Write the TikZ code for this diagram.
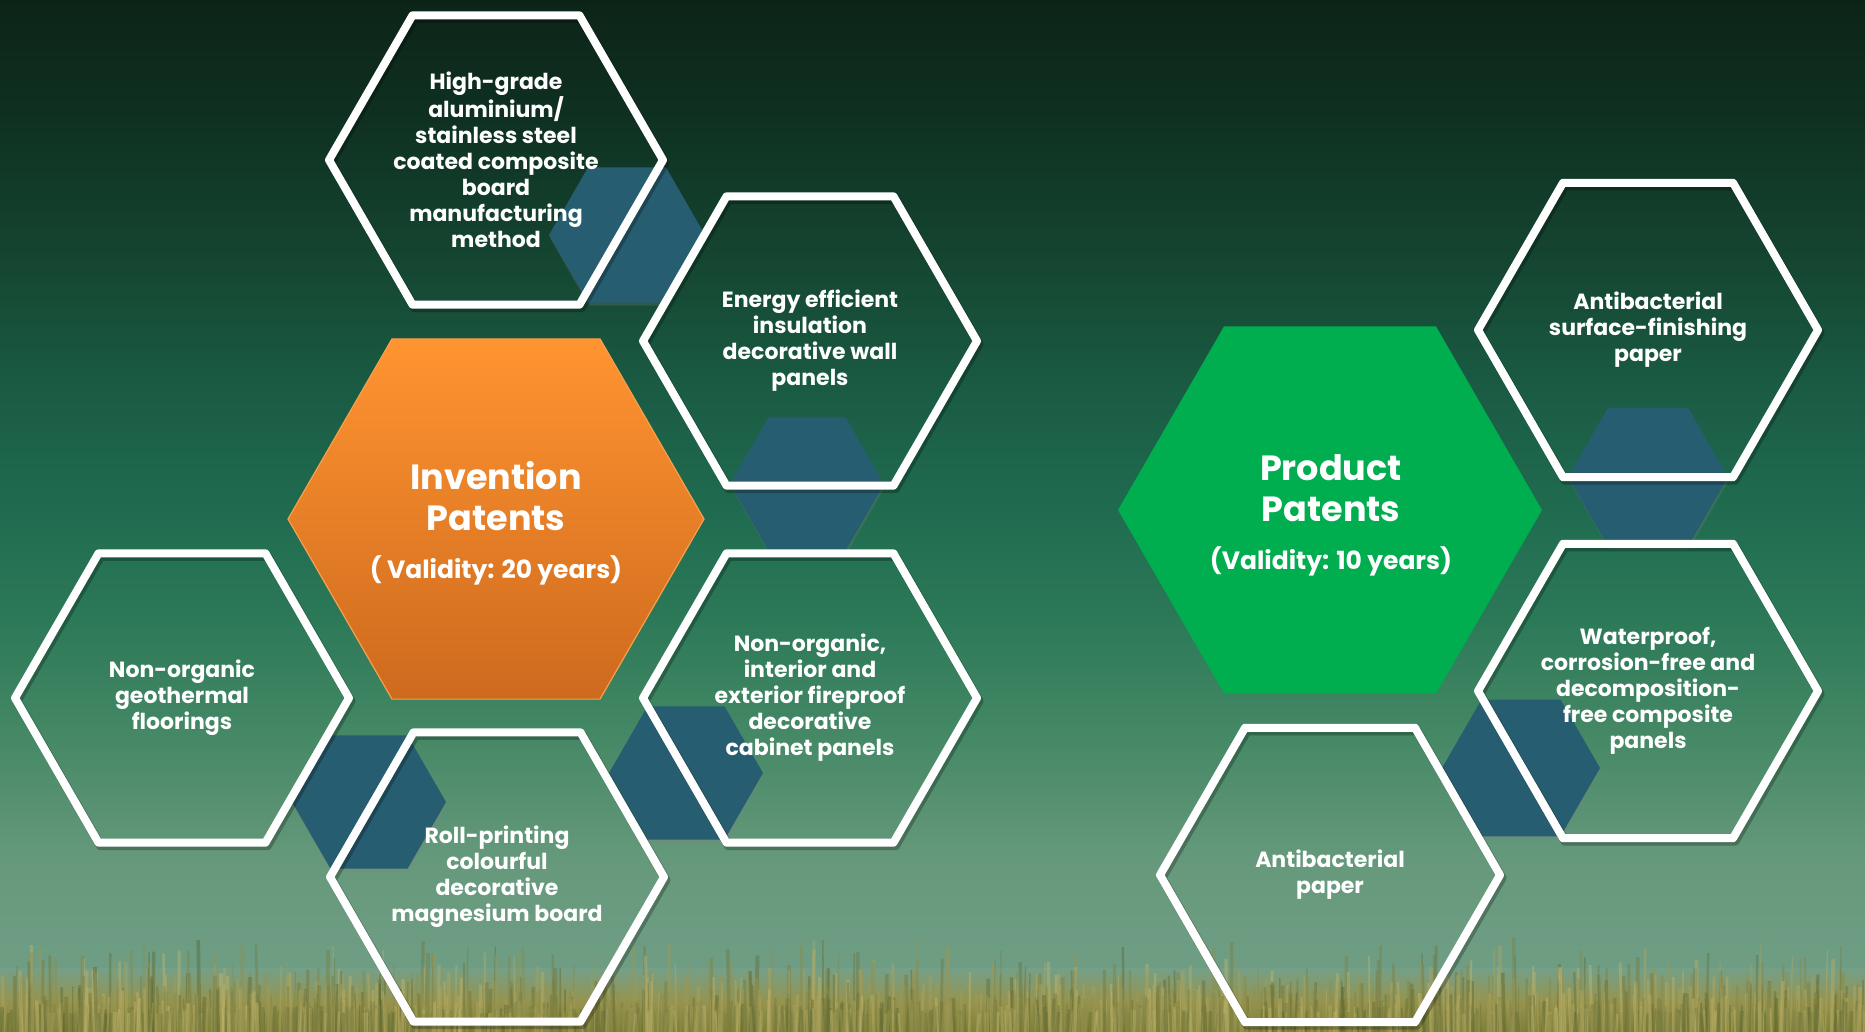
\documentclass[tikz,border=0pt]{standalone}
\usepackage{fontspec}
\setmainfont{Poppins}
\usetikzlibrary{shapes.geometric,shadows}

% sky gradient, top to bottom
\definecolor{bg0}{HTML}{0C2418}
\definecolor{bg1}{HTML}{0F3121}
\definecolor{bg2}{HTML}{144430}
\definecolor{bg3}{HTML}{1A5A42}
\definecolor{bg4}{HTML}{1F6A4F}
\definecolor{bg5}{HTML}{2C7958}
\definecolor{bg6}{HTML}{468966}
\definecolor{bg7}{HTML}{66997C}
\definecolor{bg8}{HTML}{74A088}
% grass
\definecolor{grassLight}{HTML}{CCBC70}
\definecolor{grassDark}{HTML}{56622C}
\definecolor{grassBase}{HTML}{96934E}
\definecolor{grassLow}{HTML}{7E8038}
% shapes
\definecolor{hexblue}{HTML}{275D70}
\definecolor{orangeTop}{HTML}{FF9430}
\definecolor{orangeBot}{HTML}{CE6A1E}
\definecolor{orangeEdge}{HTML}{F7A04C}
\definecolor{prodgreen}{HTML}{00AD4F}

\tikzset{
  hexbase/.style={regular polygon, regular polygon sides=6, inner sep=0pt, outer sep=0pt},
  outhex/.style={hexbase, draw=white, line width=8pt, line join=round,
    preaction={draw=black, draw opacity=0.25, line width=9pt,
      transform canvas={xshift=2pt, yshift=-3pt}}},
  lefthex/.style={outhex, minimum size=334pt},
  righthex/.style={outhex, minimum size=340pt},
  bluehex/.style={hexbase, fill=hexblue, draw=none,
    drop shadow={shadow xshift=1pt, shadow yshift=-3pt, opacity=0.25}},
  smalltxt/.style={text=white, align=center, inner sep=0pt,
    font=\fontsize{22}{26}\selectfont\bfseries},
  titletxt/.style={text=white, align=center, inner sep=0pt,
    font=\fontsize{35}{41}\selectfont\bfseries},
  validtxt/.style={text=white, inner sep=0pt, anchor=base,
    font=\fontsize{25}{30}\selectfont\bfseries},
}

\begin{document}
\begin{tikzpicture}[x=1pt,y=-1pt]
\useasboundingbox (0,0) rectangle (1865,1031);

% ---- background sky ----
\foreach \ya/\yb/\ca/\cb in {0/120/bg0/bg1, 120/250/bg1/bg2, 250/380/bg2/bg3,
    380/500/bg3/bg4, 500/620/bg4/bg5, 620/740/bg5/bg6, 740/860/bg6/bg7,
    860/1031/bg7/bg8}
  \fill[top color=\ca, bottom color=\cb] (-1,\ya-0.5) rectangle (1866,\yb+0.5);

% ---- grass ----
\fill[top color=bg8, bottom color=grassBase] (-1,968) rectangle (1866,1002);
\fill[top color=grassBase, bottom color=grassLow] (-1,1001.5) rectangle (1866,1032);
\pgfmathsetseed{4242}
\foreach \i in {1,...,1700}{
  \pgfmathsetmacro{\gx}{rnd*1880-8}
  \pgfmathsetmacro{\gh}{18+rnd*rnd*78}
  \pgfmathsetmacro{\gw}{1+rnd*3}
  \pgfmathsetmacro{\gm}{rnd*100}
  \pgfmathsetmacro{\gl}{rnd*4-2}
  \draw[line width=\gw pt, draw=grassLight!\gm!grassDark, draw opacity=0.42]
    (\gx,1032) -- ++(\gl,-\gh);
}

% ---- dark blue linking hexagons ----
\node[bluehex, minimum size=156pt] (cA) at (627,235) {};
\node[bluehex, minimum size=154pt] (cB) at (807,484) {};
\node[bluehex, minimum size=154pt] (cC) at (686,773) {};
\node[bluehex, minimum size=154pt] (cD) at (369,802) {};
\node[bluehex, minimum size=160pt] (cE) at (1648,477) {};
\node[bluehex, minimum size=158pt] (cF) at (1521,768) {};

% ---- filled category hexagons ----
\node[hexbase, minimum size=416pt, top color=orangeTop, bottom color=orangeBot,
      draw=orangeEdge, line width=1.2pt] (hInv) at (496,519) {};
\node[hexbase, minimum size=424pt, fill=prodgreen] (hProd) at (1330,510) {};

% ---- outlined patent hexagons ----
\node[lefthex]  (hTop)      at (496,160) {};
\node[lefthex]  (hEnergy)   at (810,341) {};
\node[lefthex]  (hInterior) at (810,698) {};
\node[lefthex]  (hGeo)      at (182,698) {};
\node[lefthex]  (hRoll)     at (497,877) {};
\node[righthex] (hSurface)  at (1648,330) {};
\node[righthex] (hWater)    at (1648,691) {};
\node[righthex] (hPaper)    at (1330,875) {};

% ---- category titles ----
\node[titletxt] (tInv) at (496,496) {Invention\\Patents};
\node[validtxt] (vInv) at (496,578) {( Validity: 20 years)};
\node[titletxt] (tProd) at (1331,488) {Product\\Patents};
\node[validtxt] (vProd) at (1331,569) {(Validity: 10 years)};

% ---- patent labels ----
\node[smalltxt] (lTop) at (hTop.center)
  {High-grade\\aluminium/\\stainless steel\\coated composite\\board\\manufacturing\\method};
\node[smalltxt] (lEnergy) at (hEnergy.center)
  {Energy efficient\\insulation\\decorative wall\\panels};
\node[smalltxt] (lInterior) at (hInterior.center)
  {Non-organic,\\interior and\\exterior fireproof\\decorative\\cabinet panels};
\node[smalltxt] (lGeo) at (hGeo.center)
  {Non-organic\\geothermal\\floorings};
\node[smalltxt] (lRoll) at (hRoll.center)
  {Roll-printing\\colourful\\decorative\\magnesium board};
\node[smalltxt] (lSurface) at (hSurface.center)
  {Antibacterial\\surface-finishing\\paper};
\node[smalltxt] (lWater) at (hWater.center)
  {Waterproof,\\corrosion-free and\\decomposition-\\free composite\\panels};
\node[smalltxt] (lPaper) at (hPaper.center)
  {Antibacterial\\paper};
\end{tikzpicture}
\end{document}
